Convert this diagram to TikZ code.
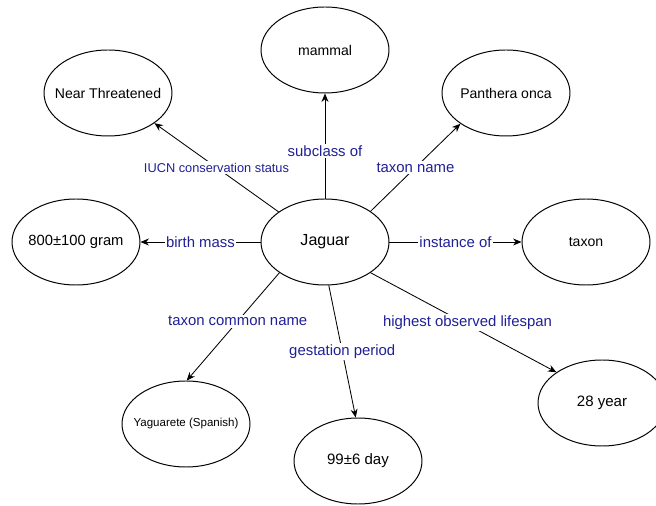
\documentclass[tikz,border=0pt]{standalone}
\usepackage{fontspec}
\setmainfont{Liberation Sans}
\usepackage{tikz}
\usetikzlibrary{shapes, arrows.meta, positioning}
\definecolor{relblue}{RGB}{32,32,150}

\tikzset{
    entity/.style={draw, ellipse, line width=0.7pt, minimum width=3.2cm, minimum height=2.15cm, inner xsep=-0.5cm, font=\fontsize{10}{12}\selectfont},
    rel/.style={fill=white, text=relblue, inner sep=1pt, font=\fontsize{10.6}{12}\selectfont}
}

\begin{document}
\begin{tikzpicture}[>={Stealth[length=6pt, width=5pt]}, line width=0.6pt]
    \useasboundingbox (-8.125,6.05) rectangle (8.275,-6.6);

    % Nodes with ellipses
    \node[entity, font=\fontsize{11.4}{13}\selectfont] (jaguar) at (0,0) {Jaguar};
    \node[entity] (mammal) at (0,4.8) {mammal};
    \node[entity] (near) at (-5.425,3.725) {Near Threatened};
    \node[entity] (panthera) at (4.525,3.725) {Panthera onca};
    \node[entity, font=\fontsize{10.5}{12}\selectfont] (mass) at (-6.225,0) {800±100 gram};
    \node[entity] (taxon) at (6.525,0) {taxon};
    \node[entity, font=\fontsize{8.2}{10}\selectfont] (yaguarete) at (-3.475,-4.55) {Yaguarete (Spanish)};
    \node[entity, font=\fontsize{10.7}{12}\selectfont] (gestation) at (0.825,-5.475) {99±6 day};
    \node[entity, font=\fontsize{10.7}{12}\selectfont] (lifespan) at (6.925,-4.025) {28 year};

    % Edges with arrows
    \draw[->] (jaguar.147) -- node[rel, font=\fontsize{9.1}{11}\selectfont] {IUCN conservation status} (near.-33);
    \draw[->] (jaguar.north) -- node[rel, pos=0.45] {subclass of} (mammal.south);
    \draw[->] (jaguar.34) -- node[rel] {taxon name} (panthera.-146);
    \draw[->] (jaguar.west) -- node[rel] {birth mass} (mass.east);
    \draw[->] (jaguar.east) -- node[rel] {instance of} (taxon.west);
    \draw[->] (jaguar.-146) -- node[rel, pos=0.45] {taxon common name} (yaguarete.89);
    \draw[->] (jaguar.-85) -- node[rel] {gestation period} (gestation.93);
    \draw[->] (jaguar.-34) -- node[rel, xshift=0.1cm] {highest observed lifespan} (lifespan.146);
\end{tikzpicture}
\end{document}
